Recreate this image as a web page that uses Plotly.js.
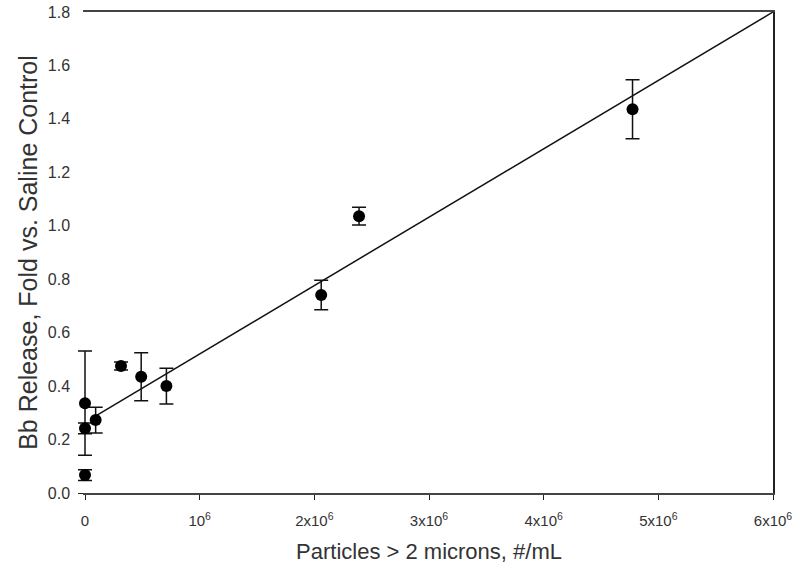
<!DOCTYPE html>
<html>
<head>
<meta charset="utf-8">
<script src="https://cdn.plot.ly/plotly-3.0.1.min.js"></script>
<style>
  body { margin: 0; background: #fff; }
  #plot { width: 800px; height: 574px; }
</style>
</head>
<body>
<div id="plot"></div>
<script>
// particle counts (#/mL) and Bb release (fold vs. saline)
const particles = [0, 0, 0, 0.093e6, 0.314e6, 0.49e6, 0.71e6, 2.06e6, 2.39e6, 4.775e6];
const bbFold    = [0.336, 0.242, 0.067, 0.273, 0.475, 0.435, 0.40, 0.741, 1.036, 1.436];
const bbErr     = [0.195, 0.02, 0.02, 0.048, 0.015, 0.09, 0.067, 0.055, 0.033, 0.11];

// regression line end points
const fitX = [0.08e6, 6e6];
const fitY = [0.285, 1.8];

const xTickVals = [0, 1e6, 2e6, 3e6, 4e6, 5e6, 6e6];
const xTickText = ["0", "10<sup>6</sup>", "2x10<sup>6</sup>", "3x10<sup>6</sup>",
                   "4x10<sup>6</sup>", "5x10<sup>6</sup>", "6x10<sup>6</sup>"];
const yTickVals = [0, 0.2, 0.4, 0.6, 0.8, 1.0, 1.2, 1.4, 1.6, 1.8];

// the points sit on x = 0, so data goes on a second (hidden) pair of axes that
// reaches a little left of the frame, otherwise the error caps get clipped
const ML = 76, MR = 27, W = 800;
const plotW = W - ML - MR;
const pad = 9; // px between data area edge and the drawn y axis
const xPad = 6e6 * pad / (plotW - pad);

const frame = { x: [], y: [], type: "scatter", mode: "markers", xaxis: "x", yaxis: "y", hoverinfo: "skip" };

const fit = {
    x: fitX,
    y: fitY,
    type: "scatter",
    mode: "lines",
    xaxis: "x2",
    yaxis: "y2",
    line: { color: "#111", width: 1.5 },
    hoverinfo: "skip"
};

const pts = {
    x: particles,
    y: bbFold,
    type: "scatter",
    mode: "markers",
    xaxis: "x2",
    yaxis: "y2",
    marker: { color: "#000", size: 12 },
    error_y: { type: "data", array: bbErr, visible: true, color: "#111", thickness: 1.5, width: 7 },
    cliponaxis: false
};

const tickFont = { family: "Liberation Sans, Arial, sans-serif", size: 16, color: "#333" };

const layout = {
    width: W,
    height: 574,
    margin: { l: ML, r: MR, t: 12, b: 81 },
    showlegend: false,
    paper_bgcolor: "#fff",
    plot_bgcolor: "#fff",
    font: { family: "Liberation Sans, Arial, sans-serif", color: "#333" },
    xaxis: {
        domain: [pad / plotW, 1],
        range: [0, 6e6],
        tickvals: xTickVals,
        ticktext: xTickText,
        ticks: "outside",
        ticklen: 5,
        tickcolor: "#222",
        ticklabelstandoff: 8,
        showgrid: false,
        zeroline: false,
        showline: true,
        linecolor: "#444",
        linewidth: 2,
        mirror: true,
        fixedrange: true,
        tickfont: { family: tickFont.family, size: 15, color: "#333" },
        title: { text: "Particles > 2 microns, #/mL", font: { size: 22, color: "#333" }, standoff: 16 }
    },
    yaxis: {
        domain: [0, 1],
        range: [0, 1.8],
        tickvals: yTickVals,
        tickformat: ".1f",
        ticks: "outside",
        ticklen: 5,
        tickcolor: "#222",
        ticklabelstandoff: 5,
        showgrid: false,
        zeroline: false,
        showline: true,
        linecolor: "#222",
        linewidth: 1.5,
        mirror: true,
        fixedrange: true,
        tickfont: tickFont,
        title: { text: "Bb Release, Fold vs. Saline Control", font: { size: 25, color: "#333" }, standoff: 3 }
    },
    xaxis2: {
        domain: [0, 1],
        range: [-xPad, 6e6],
        anchor: "y2",
        visible: false,
        fixedrange: true
    },
    yaxis2: {
        domain: [0, 1],
        range: [0, 1.8],
        anchor: "x2",
        visible: false,
        fixedrange: true
    }
};

Plotly.newPlot("plot", [frame, fit, pts], layout, { displayModeBar: false });
</script>
</body>
</html>
